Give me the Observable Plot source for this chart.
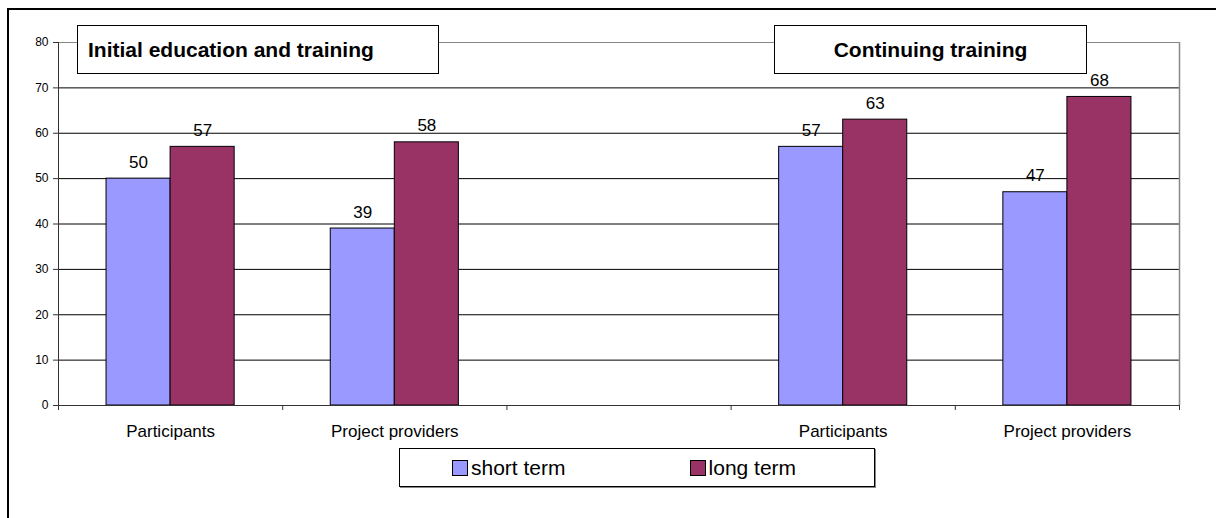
<!DOCTYPE html>
<html>
<head>
<meta charset="utf-8">
<script src="https://cdn.jsdelivr.net/npm/d3@7"></script>
<script src="https://cdn.jsdelivr.net/npm/@observablehq/plot@0.6"></script>
<style>
  html, body { margin: 0; padding: 0; background: #fff; overflow: hidden; }
  body { width: 1216px; height: 518px; position: relative; font-family: "Liberation Sans", Arial, sans-serif; }
  #frame { position: absolute; left: 7px; top: 8px; width: 1300px; height: 600px; border: 2px solid #000; box-sizing: border-box; }
  #chart { position: absolute; left: 0; top: 0; }
  .gbox { position: absolute; top: 25px; height: 49px; background: #fff; border: 1px solid #000; box-sizing: border-box;
          font-weight: bold; font-size: 21px; display: flex; align-items: center; }
  #legend { position: absolute; left: 399px; top: 448px; width: 476px; height: 39px; border: 1px solid #000; box-sizing: border-box;
            background: #fff; display: flex; align-items: center; font-size: 21px; box-shadow: 1px 1px 0 #888; }
  .item { display: flex; align-items: center; }
  .sw { width: 14px; height: 14px; border: 1px solid #000; margin-right: 3px; }
</style>
</head>
<body>
<div id="frame"></div>
<div id="chart"></div>
<div id="legend"></div>
<script>
// ---- data ----
const groupTitles = ["Initial education and training", "Continuing training"];
const categories = ["Participants", "Project providers", "", "Participants", "Project providers"];
const seriesNames = ["short term", "long term"];
const shortTerm = [50, 39, null, 57, 47];
const longTerm = [57, 58, null, 63, 68];
const yTicks = [0, 10, 20, 30, 40, 50, 60, 70, 80];
const colors = ["#9999FF", "#993366"];

// ---- table ----
const barFrac = 64 / 224; // bar width as share of a category slot
const rows = [];
categories.forEach((c, i) => {
  if (shortTerm[i] != null) rows.push({slot: i, series: seriesNames[0], k: 0, value: shortTerm[i]});
  if (longTerm[i] != null) rows.push({slot: i, series: seriesNames[1], k: 1, value: longTerm[i]});
});
const x1 = d => d.slot + 0.5 + (d.k - 1) * barFrac;
const x2 = d => d.slot + 0.5 + d.k * barFrac;
const xc = d => d.slot + 0.5 + (d.k - 0.5) * barFrac;

const slotEdges = d3.range(categories.length + 1);
const slotCenters = categories.map((_, i) => i + 0.5);

const plot = Plot.plot({
  width: 1216,
  height: 440,
  marginLeft: 58,
  marginRight: 37,
  marginTop: 42,
  marginBottom: 35,
  style: {fontFamily: "'Liberation Sans', Arial, sans-serif", background: "transparent", color: "#000", overflow: "visible"},
  x: {type: "linear", domain: [0, categories.length], label: null},
  y: {domain: [0, 80], label: null},
  color: {domain: seriesNames, range: colors},
  marks: [
    Plot.gridY(yTicks, {stroke: "#000", strokeOpacity: 1}),
    Plot.ruleY([80], {stroke: "#888"}),
    Plot.ruleX([categories.length], {stroke: "#888", strokeWidth: 1.5}),
    Plot.rectY(rows, {x1, x2, y: "value", fill: "series", stroke: "#000", strokeWidth: 1}),
    Plot.ruleX([0], {stroke: "#333"}),
    Plot.ruleY([0], {stroke: "#333", strokeWidth: 1.2}),
    Plot.axisY({ticks: yTicks, tickSize: 5, tickPadding: 5, fontSize: 12, stroke: "#333", label: null}),
    Plot.axisX({ticks: slotEdges, tickSize: 5, tickFormat: () => "", stroke: "#333", label: null}),
    Plot.axisX({ticks: slotCenters, tickSize: 0, tickPadding: 19, fontSize: 17, label: null,
                tickFormat: v => categories[Math.floor(v)]}),
    Plot.text(rows, {x: xc, y: "value", text: d => String(d.value), dy: -11, lineAnchor: "bottom", fontSize: 17})
  ]
});
document.getElementById("chart").appendChild(plot);

// group title boxes
const boxes = [
  {title: groupTitles[0], left: 77, width: 362, justify: "flex-start", pad: "10px"},
  {title: groupTitles[1], left: 774, width: 313, justify: "center", pad: "0"}
];
boxes.forEach(b => {
  const el = document.createElement("div");
  el.className = "gbox";
  el.style.left = b.left + "px";
  el.style.width = b.width + "px";
  el.style.justifyContent = b.justify;
  el.style.paddingLeft = b.pad;
  el.textContent = b.title;
  document.body.appendChild(el);
});

// legend
const legend = document.getElementById("legend");
legend.style.paddingLeft = "52px";
seriesNames.forEach((s, i) => {
  const it = document.createElement("div");
  it.className = "item";
  it.style.marginRight = i === 0 ? "124px" : "0";
  const sw = document.createElement("div");
  sw.className = "sw";
  sw.style.background = colors[i];
  const t = document.createElement("span");
  t.textContent = s;
  it.appendChild(sw);
  it.appendChild(t);
  legend.appendChild(it);
});
</script>
</body>
</html>
